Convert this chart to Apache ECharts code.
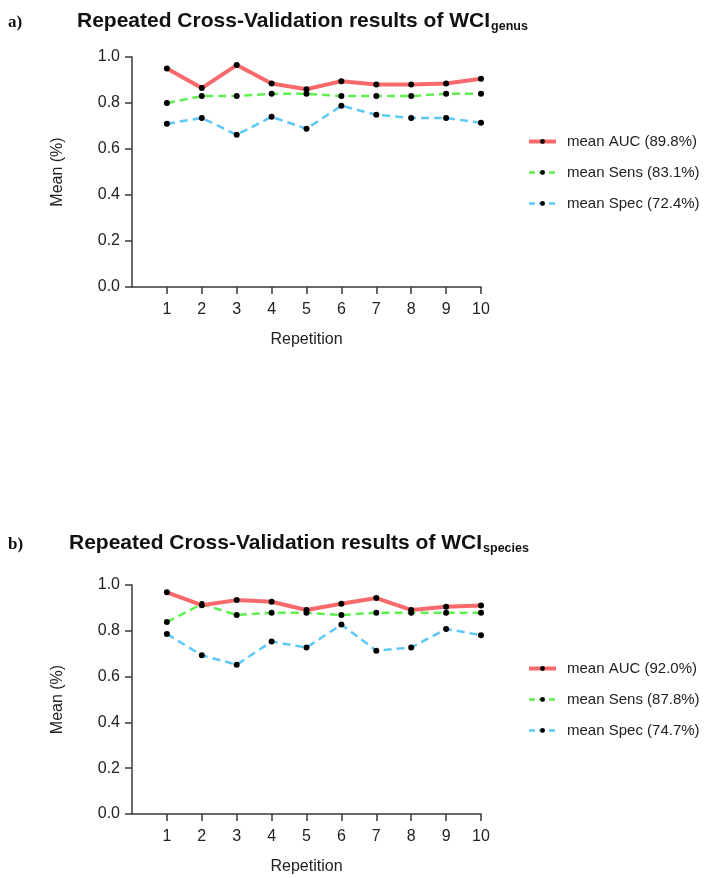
<!DOCTYPE html>
<html>
<head>
<meta charset="utf-8">
<script src="https://cdn.jsdelivr.net/npm/echarts@6/dist/echarts.min.js"></script>
<style>
html,body{margin:0;padding:0;background:#fff;}
#chart{width:706px;height:878px;}
</style>
</head>
<body>
<div id="chart"></div>
<script>
// ---- data ----
const repetitions = [1, 2, 3, 4, 5, 6, 7, 8, 9, 10];
const yTicks = [0, 0.2, 0.4, 0.6, 0.8, 1.0];

const genusAUC  = [0.95, 0.865, 0.965, 0.885, 0.86, 0.895, 0.88, 0.88, 0.885, 0.905];
const genusSens = [0.80, 0.83, 0.83, 0.84, 0.84, 0.83, 0.83, 0.83, 0.84, 0.84];
const genusSpec = [0.71, 0.735, 0.662, 0.74, 0.688, 0.788, 0.749, 0.735, 0.735, 0.714];

const speciesAUC  = [0.968, 0.912, 0.934, 0.927, 0.891, 0.918, 0.943, 0.891, 0.905, 0.911];
const speciesSens = [0.838, 0.917, 0.869, 0.879, 0.879, 0.869, 0.879, 0.879, 0.879, 0.879];
const speciesSpec = [0.786, 0.693, 0.652, 0.753, 0.727, 0.827, 0.713, 0.727, 0.808, 0.781];

const genusNames   = ['mean AUC (89.8%)', 'mean Sens (83.1%)', 'mean Spec (72.4%)'];
const speciesNames = ['mean AUC (92.0%)', 'mean Sens (87.8%)', 'mean Spec (74.7%)'];

const titleMain = 'Repeated Cross-Validation results of WCI';
const titleSubs = ['genus', 'species'];
const panelLabels = ['a)', 'b)'];
const xName = 'Repetition';
const yName = 'Mean (%)';

// ---- styling ----
const FONT = '"Liberation Sans", Arial, Helvetica, sans-serif';
const AXIS_COLOR = '#3a3a3a';
const colors = ['#f8696b', '#5ef04f', '#5cc8f8'];

function pair(xs, ys) { return xs.map((x, i) => [x, ys[i]]); }

const grids = [
  { left: 132, top: 57, width: 349, height: 230 },
  { left: 132, top: 585, width: 349, height: 229 }
];

function xAxis(gi) {
  return {
    gridIndex: gi, type: 'value', min: 0, max: 10, interval: 1,
    name: xName, nameLocation: 'middle', nameGap: 45,
    nameTextStyle: { fontFamily: FONT, fontSize: 16, color: '#222' },
    axisLine: { show: true, onZero: false, lineStyle: { color: AXIS_COLOR, width: 1.5 } },
    axisTick: { show: true, length: 7, lineStyle: { color: AXIS_COLOR, width: 1.5 }, customValues: repetitions },
    axisLabel: { fontFamily: FONT, fontSize: 16, color: '#222', margin: 15, customValues: repetitions },
    splitLine: { show: false }
  };
}
function yAxis(gi) {
  return {
    gridIndex: gi, type: 'value', min: 0, max: 1, interval: 0.2,
    name: yName, nameLocation: 'middle', nameGap: 66, nameRotate: 90,
    nameTextStyle: { fontFamily: FONT, fontSize: 16, color: '#222' },
    axisLine: { show: true, lineStyle: { color: AXIS_COLOR, width: 1.5 } },
    axisTick: { show: true, length: 7, lineStyle: { color: AXIS_COLOR, width: 1.5 }, customValues: yTicks },
    axisLabel: { fontFamily: FONT, fontSize: 16, color: '#222', margin: 12, customValues: yTicks,
      formatter: v => v.toFixed(1) },
    splitLine: { show: false }
  };
}

function series(gi, names, vals) {
  return vals.map((v, k) => ({
    name: names[k], type: 'line', xAxisIndex: gi, yAxisIndex: gi,
    data: pair(repetitions, v),
    symbol: 'circle', symbolSize: 6,
    itemStyle: { color: '#000' },
    lineStyle: k === 0
      ? { color: colors[k], width: 4 }
      : { color: colors[k], width: 2.5, type: [8, 5] },
    z: 3 - k,
    animation: false
  }));
}

function legend(names, top) {
  return {
    orient: 'vertical', left: 522, top: top, itemWidth: 27, itemHeight: 6, itemGap: 16,
    data: names.map((n, k) => ({ name: n, itemStyle: { color: '#000' },
      lineStyle: k === 0 ? { color: colors[k], width: 4 } : { color: colors[k], width: 2.5, type: [6, 4] } })),
    textStyle: { fontFamily: FONT, fontSize: 15, color: '#222', padding: [0, 0, 0, 6] },
    selectedMode: false
  };
}

function titles(idx, top, left) {
  return [
    { text: panelLabels[idx], left: 3, top: top + 3,
      textStyle: { fontFamily: '"Liberation Serif", "Times New Roman", serif', fontWeight: 'bold', fontSize: 17, color: '#111' } },
    { text: '{m|' + titleMain + '}{s|' + titleSubs[idx] + '}', left: left, top: top,
      textStyle: {
        rich: {
          m: { fontFamily: FONT, fontWeight: 'bold', fontSize: 21, color: '#111', lineHeight: 22, verticalAlign: 'top' },
          s: { fontFamily: FONT, fontWeight: 'bold', fontSize: 12.5, color: '#111', lineHeight: 13, verticalAlign: 'bottom', padding: [13, 0, 0, 1] }
        }
      } }
  ];
}

const chart = echarts.init(document.getElementById('chart'), null, { renderer: 'canvas' });
chart.setOption({
  backgroundColor: '#fff',
  animation: false,
  title: [...titles(0, 6, 72), ...titles(1, 528, 64)],
  legend: [legend(genusNames, 129), legend(speciesNames, 656)],
  grid: grids,
  xAxis: [xAxis(0), xAxis(1)],
  yAxis: [yAxis(0), yAxis(1)],
  series: [...series(0, genusNames, [genusAUC, genusSens, genusSpec]),
           ...series(1, speciesNames, [speciesAUC, speciesSens, speciesSpec])]
});
</script>
</body>
</html>
